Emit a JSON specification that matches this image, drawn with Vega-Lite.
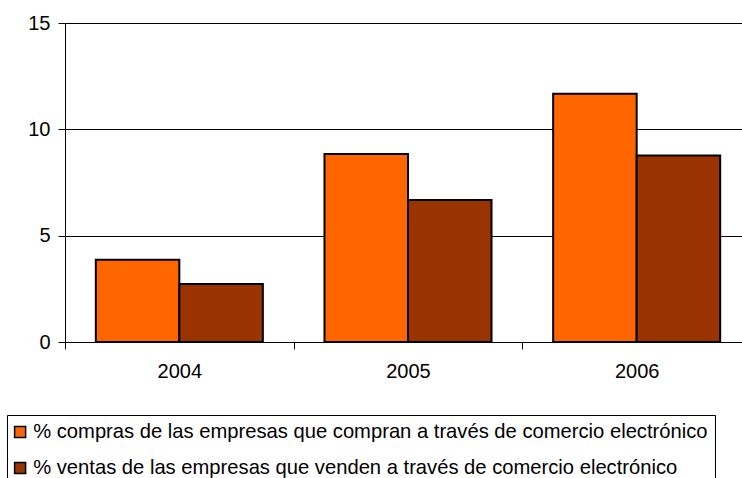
{
  "$schema": "https://vega.github.io/schema/vega-lite/v6.json",
  "width": 677,
  "height": 319,
  "autosize": {"type": "none"},
  "padding": {"left": 65, "top": 23, "right": 0, "bottom": 136},
  "background": "white",
  "data": {
    "values": [
      {"year": "2004", "serie": "% compras de las empresas que compran a través de comercio electrónico", "value": 3.87},
      {"year": "2004", "serie": "% ventas de las empresas que venden a través de comercio electrónico", "value": 2.73},
      {"year": "2005", "serie": "% compras de las empresas que compran a través de comercio electrónico", "value": 8.84},
      {"year": "2005", "serie": "% ventas de las empresas que venden a través de comercio electrónico", "value": 6.68},
      {"year": "2006", "serie": "% compras de las empresas que compran a través de comercio electrónico", "value": 11.67},
      {"year": "2006", "serie": "% ventas de las empresas que venden a través de comercio electrónico", "value": 8.77}
    ]
  },
  "mark": {"type": "bar", "stroke": "black", "strokeWidth": 2},
  "encoding": {
    "x": {
      "field": "year",
      "type": "nominal",
      "scale": {"range": [0, 686], "paddingInner": 0, "paddingOuter": 0},
      "axis": {
        "title": null,
        "labelAngle": 0,
        "tickBand": "extent",
        "tickSize": 7,
        "tickColor": "black",
        "domainColor": "black",
        "labelFontSize": 20,
        "labelFont": "Liberation Sans",
        "labelColor": "black",
        "labelPadding": 12,
        "grid": false
      }
    },
    "xOffset": {
      "field": "serie",
      "type": "nominal",
      "scale": {"paddingInner": 0, "paddingOuter": 0.369}
    },
    "y": {
      "field": "value",
      "type": "quantitative",
      "scale": {"domain": [0, 15]},
      "axis": {
        "values": [0, 5, 10, 15],
        "title": null,
        "tickSize": 7,
        "tickColor": "black",
        "domainColor": "black",
        "gridColor": "black",
        "gridOpacity": 1,
        "labelFontSize": 20,
        "labelFont": "Liberation Sans",
        "labelColor": "black",
        "labelPadding": 8
      }
    },
    "color": {
      "field": "serie",
      "type": "nominal",
      "scale": {
        "domain": [
          "% compras de las empresas que compran a través de comercio electrónico",
          "% ventas de las empresas que venden a través de comercio electrónico"
        ],
        "range": ["#FF6600", "#993300"]
      },
      "legend": {
        "title": null,
        "orient": "none",
        "legendX": -58,
        "legendY": 392,
        "direction": "vertical",
        "strokeColor": "black",
        "fillColor": "white",
        "padding": 7,
        "symbolType": "square",
        "symbolSize": 121,
        "symbolOffset": -4,
        "symbolStrokeColor": "black",
        "symbolStrokeWidth": 1.5,
        "symbolOpacity": 1,
        "labelFontSize": 20.2,
        "labelFont": "Liberation Sans",
        "labelColor": "black",
        "labelLimit": 1000,
        "labelOffset": 3,
        "rowPadding": 15
      }
    }
  },
  "config": {
    "view": {"stroke": null},
    "axis": {"domainWidth": 1, "tickWidth": 1, "gridWidth": 1}
  }
}
